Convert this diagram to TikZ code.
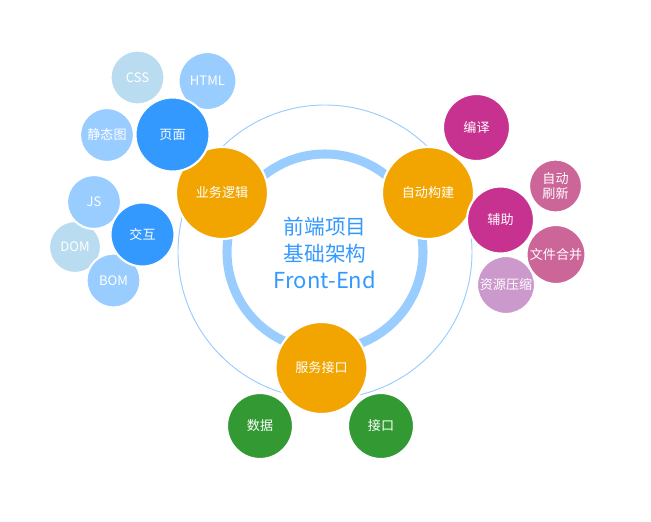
\documentclass[tikz,border=0pt]{standalone}
\usepackage{fontspec}
\setmainfont{Noto Sans CJK SC}
\definecolor{orangeC}{HTML}{F2A500}
\definecolor{blueD}{HTML}{3399FF}
\definecolor{blueL}{HTML}{99CCFF}
\definecolor{blueXL}{HTML}{B9DCF0}
\definecolor{magD}{HTML}{C7318F}
\definecolor{pinkC}{HTML}{CC6699}
\definecolor{purpL}{HTML}{CC99CC}
\definecolor{greenC}{HTML}{339933}
\tikzset{
  bub/.style={circle,draw=white,line width=1.6pt,inner sep=0pt,text=white,
    minimum size=#1*1.5pt,font=\fontsize{9.8}{11}\selectfont,align=center},
}
\begin{document}
\begin{tikzpicture}[x=0.75pt,y=-0.75pt]
\useasboundingbox (0,0) rectangle (651,522);
% rings
\node[circle,draw=blueL,line width=0.7pt,minimum size=220.5pt,inner sep=0] (outer) at (325,252) {};
\node[circle,draw=blueL,line width=6.8pt,minimum size=147pt,inner sep=0] (ring) at (325,252) {};
\node[text=blueD,font=\fontsize{15.5}{20}\selectfont,align=center] (title) at (325,253) {前端项目\\基础架构\\{\fontsize{16.5}{20}\selectfont Front-End}};
% left group
\node[bub=46,fill=orangeC] (biz) at (222,193) {业务逻辑};
\node[bub=27,fill=blueXL] (css) at (137.5,77.5) {CSS};
\node[bub=29,fill=blueL] (html) at (207.5,81) {HTML};
\node[bub=27,fill=blueL] (img) at (107,135) {静态图};
\node[bub=37,fill=blueD] (page) at (172.5,134.5) {页面};
\node[bub=26,fill=blueXL] (dom) at (75,247) {DOM};
\node[bub=27,fill=blueL] (js) at (94,202) {JS};
\node[bub=27,fill=blueL] (bom) at (113.5,280.5) {BOM};
\node[bub=32,fill=blueD] (inter) at (142.5,234.5) {交互};
% right group
\node[bub=46,fill=orangeC] (build) at (428,193) {自动构建};
\node[bub=33.5,fill=magD] (comp) at (476.5,127.5) {编译};
\node[bub=29,fill=purpL] (zip) at (506,285) {资源压缩};
\node[bub=33.5,fill=magD] (aux) at (500.5,220) {辅助};
\node[bub=26.5,fill=pinkC] (refresh) at (555.5,186) {自动\\刷新};
\node[bub=29.5,fill=pinkC] (merge) at (556,254.5) {文件合并};
% bottom group
\node[bub=46,fill=orangeC] (api) at (321.5,368) {服务接口};
\node[bub=33,fill=greenC] (data) at (260,426) {数据};
\node[bub=33,fill=greenC] (iface) at (381,426) {接口};
\end{tikzpicture}
\end{document}
